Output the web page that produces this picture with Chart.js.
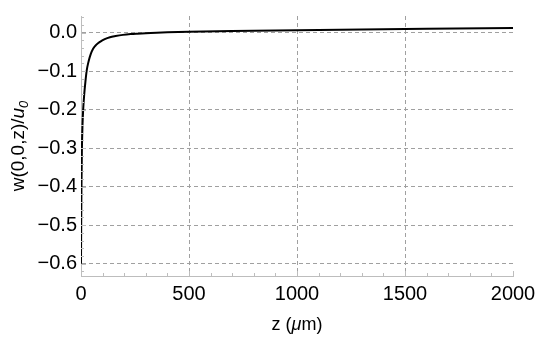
<!DOCTYPE html>
<html>
<head>
<meta charset="utf-8">
<script src="https://cdn.jsdelivr.net/npm/chart.js@4/dist/chart.umd.min.js"></script>
<style>
  html, body { margin: 0; padding: 0; background: #fff; }
  #wrap { width: 550px; height: 338px; }
</style>
</head>
<body>
<div id="wrap"><canvas id="c" width="550" height="338"></canvas></div>
<script>
/* values */
const zValues = [0, 0.5, 1, 2, 4, 7, 10, 15, 20, 26, 35, 45, 56, 70, 88, 110, 134, 160, 194, 230, 260, 300, 350, 400, 500, 700, 1000, 1300, 1600, 2000];
const wValues = [-0.60, -0.54, -0.49, -0.41, -0.31, -0.24, -0.20, -0.16, -0.13, -0.10, -0.075, -0.056, -0.042, -0.032, -0.024, -0.017, -0.012, -0.009, -0.006, -0.004, -0.003, -0.002, -0.0005, 0.0005, 0.002, 0.004, 0.006, 0.008, 0.010, 0.012];
const xTicks = [0, 500, 1000, 1500, 2000];
const yTicks = [-0.6, -0.5, -0.4, -0.3, -0.2, -0.1, 0.0];

const font = "'Liberation Sans', Arial, sans-serif";
const axisGray = "#bdbdbd";
const gridGray = "#a0a0a0";

const fmtY = v => (v < -1e-9 ? "\u2212" : "") + Math.abs(v).toFixed(1);

// frame ticks (inward, with minors) and the axis titles
const decor = {
  id: "decor",
  afterDraw(chart) {
    const { ctx, chartArea: a, scales: { x, y } } = chart;
    ctx.save();
    ctx.strokeStyle = axisGray;
    ctx.lineWidth = 1;
    ctx.setLineDash([]);
    ctx.beginPath();
    for (let v = 0; v <= 2000; v += 100) {
      const px = Math.round(x.getPixelForValue(v)) + 0.5;
      const len = v % 500 === 0 ? 5 : 3;
      ctx.moveTo(px, a.bottom); ctx.lineTo(px, a.bottom - len);
    }
    for (let i = -31; i <= 2; i++) {
      const py = Math.round(y.getPixelForValue(i * 0.02)) + 0.5;
      const len = i % 5 === 0 ? 5 : 3;
      ctx.moveTo(a.left, py); ctx.lineTo(a.left + len, py);
    }
    ctx.stroke();

    ctx.fillStyle = "#000";
    ctx.textBaseline = "middle";
    // x title: z (μm)
    const parts = [["z (", "18px " + font], ["\u03bc", "italic 18px " + font], ["m)", "18px " + font]];
    let w = 0;
    parts.forEach(p => { ctx.font = p[1]; w += ctx.measureText(p[0]).width; });
    let cx = (a.left + a.right) / 2 - w / 2;
    ctx.textAlign = "left";
    parts.forEach(p => { ctx.font = p[1]; ctx.fillText(p[0], cx, 325); cx += ctx.measureText(p[0]).width; });

    // y title: w(0,0,z)/u0
    ctx.translate(19, (a.top + a.bottom) / 2);
    ctx.rotate(-Math.PI / 2);
    const main = "w(0,0,z)/";
    ctx.font = "19px " + font;
    const w1 = ctx.measureText(main).width;
    ctx.font = "italic 19px " + font;
    const w2 = ctx.measureText("u").width;
    ctx.font = "italic 13px " + font;
    const w3 = ctx.measureText("0").width;
    let sx = -(w1 + w2 + w3) / 2;
    ctx.font = "19px " + font;
    ctx.fillText(main, sx, 0); sx += w1;
    ctx.font = "italic 19px " + font;
    ctx.fillText("u", sx, 0); sx += w2;
    ctx.font = "italic 13px " + font;
    ctx.fillText("0", sx, 5);
    ctx.restore();
  }
};

new Chart(document.getElementById("c"), {
  type: "line",
  data: {
    datasets: [{
      data: zValues.map((z, i) => ({ x: z, y: wValues[i] })),
      borderColor: "#000",
      borderWidth: 2,
      pointRadius: 0,
      fill: false,
      cubicInterpolationMode: "monotone"
    }]
  },
  options: {
    responsive: false,
    animation: false,
    events: [],
    layout: { padding: { top: 10, right: 37, left: 0, bottom: 0 } },
    plugins: { legend: { display: false }, tooltip: { enabled: false } },
    scales: {
      x: {
        type: "linear",
        min: 0, max: 2000,
        afterBuildTicks: s => { s.ticks = xTicks.map(v => ({ value: v })); },
        afterFit: s => { s.height = 62; },
        border: { display: true, color: axisGray, width: 1, dash: [4, 3] },
        grid: {
          drawTicks: false,
          color: c => (c.tick && (c.tick.value === 0 || c.tick.value === 2000)) ? "rgba(0,0,0,0)" : gridGray,
          lineWidth: 1
        },
        ticks: { color: "#000", font: { family: font, size: 20 }, padding: 6, maxRotation: 0,
                 callback: v => String(v) }
      },
      y: {
        type: "linear",
        min: -0.632, max: 0.043,
        afterBuildTicks: s => { s.ticks = yTicks.map(v => ({ value: v })); },
        afterFit: s => { s.width = 81; },
        border: { display: true, color: axisGray, width: 1, dash: [4, 3] },
        grid: { drawTicks: false, color: gridGray, lineWidth: 1 },
        ticks: { color: "#000", font: { family: font, size: 20 }, padding: 4,
                 callback: v => fmtY(v) }
      }
    }
  },
  plugins: [decor]
});
</script>
</body>
</html>
